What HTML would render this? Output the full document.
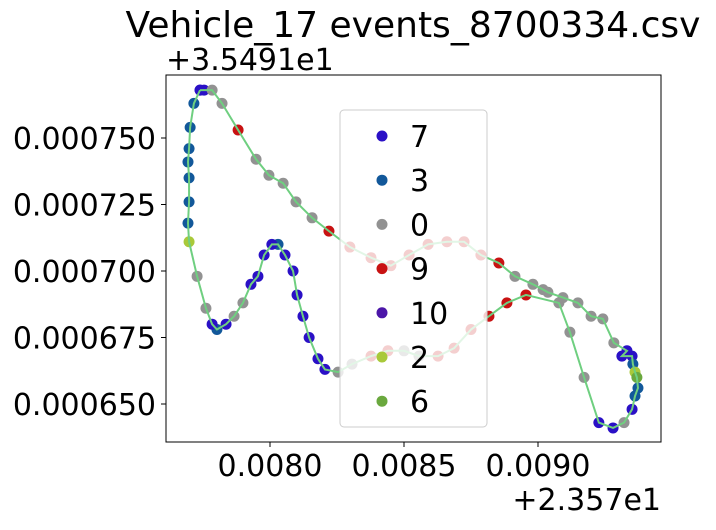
<!DOCTYPE html>
<html><head><meta charset="utf-8"><style>
body{margin:0;background:#fff;width:716px;height:525px;overflow:hidden}
svg{font-family:"DejaVu Sans","Liberation Sans",sans-serif}
</style></head><body>
<svg id="chart" width="716" height="525" viewBox="0 0 716 525">
<text x="413" y="37" font-size="36" text-anchor="middle">Vehicle_17 events_8700334.csv</text>
<text x="166" y="70" font-size="30">+3.5491e1</text>
<text x="661" y="510" font-size="30" text-anchor="end">+2.357e1</text>
<g id="marks"></g>
<rect x="166" y="75" width="495" height="367" fill="none" stroke="#000" stroke-width="1"/>
<g id="ticks"></g>
<g id="legend"></g>
</svg>
<script>
const xs=[0.007739,0.007754,0.007784,0.007821,0.007881,0.007948,0.007996,0.008049,0.008097,0.008157,0.008220,0.008298,0.008377,0.008451,0.008519,0.008590,0.008660,0.008724,0.008787,0.008854,0.008914,0.008981,0.009019,0.009037,0.009093,0.009149,0.009198,0.009242,0.009283,0.009332,0.009313,0.009351,0.009354,0.009362,0.009369,0.009373,0.009362,0.009351,0.009321,0.009280,0.009227,0.009172,0.009119,0.009078,0.008955,0.008884,0.008817,0.008750,0.008687,0.008627,0.008556,0.008500,0.008440,0.008377,0.008306,0.008254,0.008205,0.008179,0.008146,0.008123,0.008101,0.008086,0.008056,0.008030,0.008007,0.007978,0.007955,0.007929,0.007899,0.007866,0.007836,0.007802,0.007784,0.007761,0.007728,0.007698,0.007694,0.007698,0.007698,0.007694,0.007698,0.007702,0.007716,0.007739];
const ys=[0.000768,0.000768,0.000768,0.000763,0.000753,0.000742,0.000736,0.000733,0.000726,0.000720,0.000715,0.000709,0.000705,0.000702,0.000706,0.000710,0.000711,0.000711,0.000706,0.000703,0.000698,0.000695,0.000693,0.000692,0.000690,0.000688,0.000683,0.000682,0.000673,0.000670,0.000668,0.000668,0.000665,0.000662,0.000660,0.000656,0.000653,0.000648,0.000643,0.000641,0.000643,0.000660,0.000677,0.000688,0.000691,0.000688,0.000683,0.000678,0.000671,0.000668,0.000668,0.000670,0.000670,0.000668,0.000665,0.000662,0.000663,0.000667,0.000675,0.000683,0.000691,0.000700,0.000706,0.000710,0.000710,0.000706,0.000698,0.000695,0.000688,0.000683,0.000680,0.000678,0.000680,0.000686,0.000698,0.000711,0.000718,0.000726,0.000735,0.000741,0.000746,0.000754,0.000763,0.000768];
const cats=[7,7,0,0,9,0,0,0,0,0,9,9,9,9,9,9,9,9,9,9,0,0,0,0,0,0,0,0,0,7,7,7,3,2,6,3,3,7,0,7,7,0,0,0,9,9,9,9,9,9,0,0,9,9,0,0,7,7,7,7,7,7,7,3,7,7,7,7,0,0,7,3,7,0,0,2,3,3,3,3,3,3,3,7];
const legendCats=[7,3,0,9,10,2,6];
const xTicks=[0.0080,0.0085,0.0090];
const xTickLabels=["0.0080","0.0085","0.0090"];
const yTicks=[0.000650,0.000675,0.000700,0.000725,0.000750];
const yTickLabels=["0.000650","0.000675","0.000700","0.000725","0.000750"];
const colors={7:"#2a10c6",3:"#12589a",0:"#929292",9:"#c81212",10:"#4b16a8",2:"#a9c93a",6:"#6aa83e"};
const NS="http://www.w3.org/2000/svg";
const X=v=>270+(v-0.008)*268000;
const Y=w=>271-(w-0.0007)*2660000;
function mk(t,a,p){const e=document.createElementNS(NS,t);for(const k in a)e.setAttribute(k,a[k]);(p||document.getElementById('marks')).appendChild(e);return e;}
for(let i=0;i<xs.length;i++){
 const c=mk('circle',{cx:X(xs[i]),cy:Y(ys[i]),r:5.5,fill:colors[cats[i]]});
 
 
}
const pl=mk('polyline',{points:xs.map((v,i)=>X(v)+','+Y(ys[i])).join(' '),fill:'none',stroke:'#6fcf80','stroke-width':2});


const tg=document.getElementById('ticks');
xTicks.forEach((v,i)=>{
 const l=mk('line',{x1:X(v),x2:X(v),y1:442,y2:447,stroke:'#000'},tg);
 
 
 const t=mk('text',{x:X(v),y:476,'font-size':30,'text-anchor':'middle'},tg);t.textContent=xTickLabels[i];
 
 
});
yTicks.forEach((v,i)=>{
 const l=mk('line',{x1:161,x2:166,y1:Y(v),y2:Y(v),stroke:'#000'},tg);
 
 
 const t=mk('text',{x:156,y:Y(v)+11,'font-size':30,'text-anchor':'end'},tg);t.textContent=yTickLabels[i];
 
 
});
const lg=document.getElementById('legend');
mk('rect',{x:340,y:110,width:147,height:317,rx:4,fill:'#fff','fill-opacity':0.8,stroke:'#ccc'},lg);
legendCats.forEach((c,i)=>{
 const yy=136+i*44.2;
 const m=mk('circle',{cx:382,cy:yy,r:5.5,fill:colors[c]},lg);
 
 
 const t=mk('text',{x:410,y:yy+11,'font-size':30},lg);t.textContent=String(c);
 
 
});
</script>
</body></html>
